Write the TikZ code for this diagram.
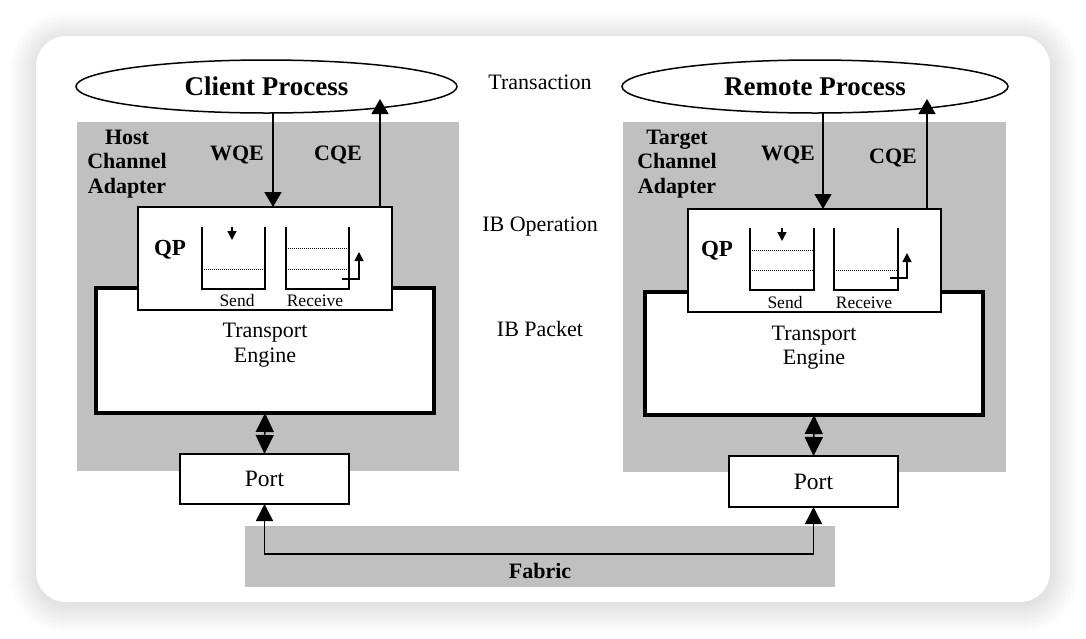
\documentclass[tikz,border=0pt]{standalone}
\usepackage{fontspec}
\setmainfont{Liberation Serif}
\usetikzlibrary{arrows.meta,shapes.geometric}
\definecolor{panelgray}{HTML}{C0C0C0}
\begin{document}
\begin{tikzpicture}[x=1pt,y=-1pt,
  every node/.style={inner sep=0pt,outer sep=0pt},
  panel/.style={fill=panelgray,draw=none},
  box/.style={draw=black,fill=white,line width=1.4pt,rectangle},
  thickbox/.style={draw=black,fill=white,line width=3.6pt,rectangle},
  proc/.style={draw=black,fill=white,line width=1.5pt,ellipse,font=\fontsize{27}{29}\selectfont\bfseries},
  lbl/.style={font=\fontsize{22}{24.5}\selectfont},
  blbl/.style={font=\fontsize{22}{24.5}\selectfont\bfseries,align=center},
  slbl/.style={font=\fontsize{17.5}{19}\selectfont},
  arr/.style={line width=1.5pt,-{Triangle[length=15pt,width=17pt]}},
  darr/.style={line width=1.5pt,{Triangle[length=19pt,width=18pt]}-{Triangle[length=19pt,width=18pt]}},
  farr/.style={line width=1.5pt,{Triangle[length=17pt,width=17pt]}-{Triangle[length=17pt,width=17pt]}},
  qarr/.style={line width=1.4pt,-{Triangle[length=9pt,width=9pt]}},
  queue/.style={line width=1.3pt},
  dots/.style={line width=0.9pt,dash pattern=on 1pt off 1pt},
]
\useasboundingbox (0,0) rectangle (1086,638);
\fill[white] (0,0) rectangle (1086,638);
% card shadow
\foreach \i in {1,...,28}{
  \fill[black,opacity=0.0042,rounded corners=30pt+\i pt]
    (36-\i+1,36-\i+3) rectangle (1050+\i+1,602+\i+3);
}
\fill[white,rounded corners=30pt] (36,36) rectangle (1050,602);

% panels
\fill[panel] (77,122) rectangle (459,471);
\fill[panel] (623,122) rectangle (1006,472);
\fill[panel] (245,526) rectangle (835,587);

% ---------- left ----------
\node[proc,minimum width=381pt,minimum height=53pt] (cp) at (266.5,86.5) {Client Process};
\node[thickbox,minimum width=338pt,minimum height=125pt] (teL) at (265,350.5) {};
\node[box,minimum width=254pt,minimum height=103pt] (qpL) at (265,258.5) {};
\node[box,minimum width=169pt,minimum height=50pt,font=\fontsize{23.5}{25}\selectfont] (portL) at (264.5,479) {Port};

\node[blbl] (hca) at (127,164) {Host\\Channel\\Adapter};
\node[blbl] (wqeL) at (237,155) {WQE};
\node[blbl] (cqeL) at (338,155) {CQE};
\node[blbl,font=\fontsize{23}{25}\selectfont\bfseries] (qplL) at (170,250) {QP};
\node[slbl] (sendL) at (237,301) {Send};
\node[slbl] (recvL) at (315,301) {Receive};
\node[lbl,align=center] (tetL) at (265,345) {Transport\\Engine};

\coordinate (wL) at (273,0);
\coordinate (cL) at (380,99);
\draw[arr] (cp.south -| wL) -- (qpL.north -| wL);
\draw[arr] (qpL.north -| cL) -- (cL);
\draw[darr] (teL.south) -- (portL.north);

% queues left
\draw[queue] (202,227) |- (265,289) -- (265,227);
\draw[dots] (202,269) -- (265,269);
\draw[queue] (286,227) |- (349,289) -- (349,227);
\draw[dots] (286,248) -- (349,248);
\draw[dots] (286,269) -- (349,269);
\draw[qarr] (232,227) -- (232,240);
\draw[qarr] (342,279) -- (359,279) -- (359,252);

% ---------- right ----------
\node[proc,minimum width=386pt,minimum height=53pt] (rp) at (815,86.5) {Remote Process};
\node[thickbox,minimum width=338pt,minimum height=123pt] (teR) at (814,353.5) {};
\node[box,minimum width=253pt,minimum height=103pt] (qpR) at (814.5,260.5) {};
\node[box,minimum width=169pt,minimum height=51pt,font=\fontsize{23.5}{25}\selectfont] (portR) at (813.5,481.5) {Port};

\node[blbl] (tca) at (677,164) {Target\\Channel\\Adapter};
\node[blbl] (wqeR) at (788,155) {WQE};
\node[blbl] (cqeR) at (893,158) {CQE};
\node[blbl,font=\fontsize{23}{25}\selectfont\bfseries] (qplR) at (717,251) {QP};
\node[slbl] (sendR) at (785,303) {Send};
\node[slbl] (recvR) at (864,303) {Receive};
\node[lbl,align=center] (tetR) at (814,347.5) {Transport\\Engine};

\coordinate (wR) at (823,0);
\coordinate (cR) at (927,99);
\draw[arr] (rp.south -| wR) -- (qpR.north -| wR);
\draw[arr] (qpR.north -| cR) -- (cR);
\draw[darr] (teR.south) -- (portR.north);

% queues right
\draw[queue] (750,228) |- (814,290) -- (814,228);
\draw[dots] (750,250) -- (814,250);
\draw[dots] (750,270) -- (814,270);
\draw[queue] (834,228) |- (898,290) -- (898,228);
\draw[dots] (834,270) -- (898,270);
\draw[qarr] (782,228) -- (782,241);
\draw[qarr] (890,278) -- (907,278) -- (907,253);

% ---------- middle ----------
\node[lbl] (trans) at (540,82) {Transaction};
\node[lbl] (ibop) at (540,227) {IB Operation};
\node[lbl] (ibpk) at (540,329) {IB Packet};
\node[blbl] (fabric) at (540,571) {Fabric};
\coordinate (fab) at (540,554);
\draw[farr] (portL.south) |- (fab) -| (portR.south);
\end{tikzpicture}
\end{document}
